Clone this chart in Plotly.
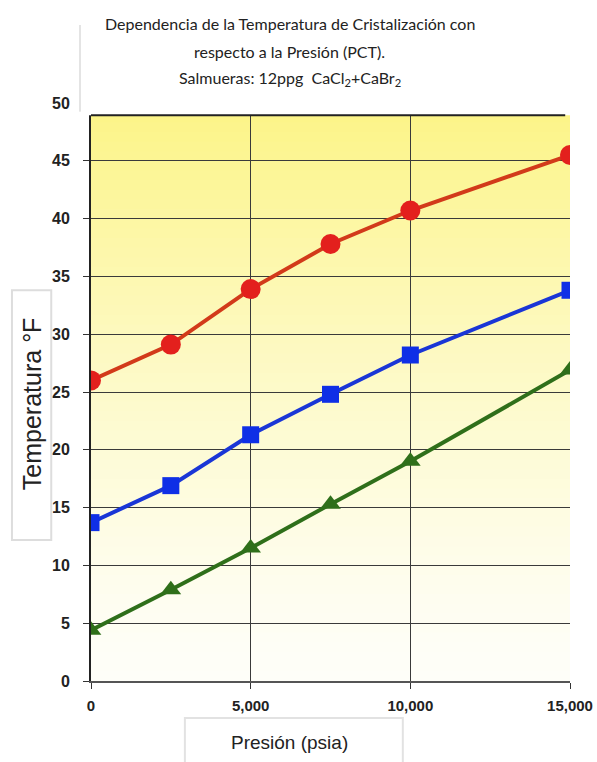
import plotly.graph_objects as go

presion = [0, 2500, 5000, 7500, 10000, 15000]
serie_roja = [26.0, 29.1, 33.9, 37.8, 40.7, 45.5]
serie_azul = [13.7, 16.9, 21.3, 24.8, 28.2, 33.8]
serie_verde = [4.4, 7.9, 11.5, 15.3, 19.0, 26.9]

x_ticks = [0, 5000, 10000, 15000]
x_ticklabels = ["0", "5,000", "10,000", "15,000"]
y_ticks = list(range(0, 55, 5))

titulo_lineas = [
    "Dependencia de la Temperatura de Cristalización con",
    "respecto a la Presión (PCT).",
    "Salmueras: 12ppg  CaCl<sub>2</sub>+CaBr<sub>2</sub>",
]

fig = go.Figure()

fig.add_trace(go.Scatter(x=presion, y=serie_roja, mode="lines+markers",
                         line=dict(color="#d23a1a", width=4),
                         marker=dict(symbol="circle", size=20, color="#e3201d"),
                         showlegend=False))
fig.add_trace(go.Scatter(x=presion, y=serie_azul, mode="lines+markers",
                         line=dict(color="#1a36d6", width=4),
                         marker=dict(symbol="square", size=17, color="#0f2fe6"),
                         showlegend=False))
fig.add_trace(go.Scatter(x=presion, y=serie_verde, mode="lines+markers",
                         line=dict(color="#2f6f1a", width=4),
                         marker=dict(symbol="triangle-up", size=18, color="#2f6f1a"),
                         showlegend=False))

# gradient background (yellow at top to near white at bottom)
shapes = []
n = 60
top = (252, 244, 135)
bot = (254, 254, 248)
for i in range(n):
    t = i / (n - 1)
    tt = t ** 1.3
    c = tuple(int(round(bot[k] + (top[k] - bot[k]) * tt)) for k in range(3))
    shapes.append(dict(type="rect", xref="x domain", yref="y domain",
                       x0=0, x1=1, y0=i / n, y1=(i + 1) / n + 0.002,
                       fillcolor="rgb(%d,%d,%d)" % c, line=dict(width=0),
                       layer="below"))

# title box covering the top of the plot
shapes.append(dict(type="rect", xref="paper", yref="paper",
                   x0=-0.023, x1=1.0, y0=0.979, y1=1.14,
                   fillcolor="white", line=dict(width=0), layer="above"))
shapes.append(dict(type="line", xref="paper", yref="paper",
                   x0=-0.023, x1=-0.023, y0=0.985, y1=1.135,
                   line=dict(color="#e4e4e4", width=2), layer="above"))
shapes.append(dict(type="line", xref="paper", yref="paper",
                   x0=0.0, x1=0.99, y0=0.979, y1=0.979,
                   line=dict(color="#222222", width=2), layer="above"))
# y-axis title box
shapes.append(dict(type="rect", xref="paper", yref="paper",
                   x0=-0.165, x1=-0.083, y0=0.244, y1=0.676,
                   fillcolor="white", line=dict(color="#dddddd", width=2)))
# x-axis title box
shapes.append(dict(type="rect", xref="paper", yref="paper",
                   x0=0.196, x1=0.651, y0=-0.16, y1=-0.064,
                   fillcolor="white", line=dict(color="#e2e2e2", width=2)))

title_font = dict(family="Lato, Liberation Sans, sans-serif", size=16, color="#222222")
annotations = []
for texto, yy in zip(titulo_lineas, [1.137, 1.089, 1.043]):
    annotations.append(dict(text=texto, xref="paper", yref="paper", x=0.415, y=yy,
                            xanchor="center", yanchor="middle", showarrow=False,
                            font=title_font))
annotations += [
    dict(text="Temperatura °F", xref="paper", yref="paper", x=-0.124, y=0.48,
         xanchor="center", yanchor="middle",
         textangle=-90, showarrow=False,
         font=dict(family="Liberation Sans, Arial, sans-serif", size=25, color="#222222")),
    dict(text="Presión (psia)", xref="paper", yref="paper", x=0.415, y=-0.106,
         xanchor="center", yanchor="middle",
         showarrow=False,
         font=dict(family="Liberation Sans, Arial, sans-serif", size=19, color="#222222")),
]

fig.update_layout(
    width=597, height=762,
    margin=dict(l=91, r=27, t=103, b=81),
    paper_bgcolor="white", plot_bgcolor="white",
    shapes=shapes, annotations=annotations,
    xaxis=dict(range=[0, 15000], tickvals=x_ticks, ticktext=x_ticklabels,
               automargin=False,
               showgrid=True, gridcolor="#3a3a3a", gridwidth=1,
               showline=True, linecolor="#555555", linewidth=2, mirror=True,
               ticks="outside", ticklen=6, tickcolor="#333333",
               ticklabelstandoff=4,
               tickfont=dict(family="Liberation Sans, Arial, sans-serif", size=15, color="#222222", weight="bold"),
               zeroline=False),
    yaxis=dict(range=[0, 50], tickvals=y_ticks, automargin=False,
               showgrid=True, gridcolor="#3a3a3a", gridwidth=1,
               showline=True, linecolor="#222222", linewidth=2,
               ticks="outside", ticklen=6, tickcolor="#333333",
               ticklabelstandoff=10,
               tickfont=dict(family="Liberation Sans, Arial, sans-serif", size=16, color="#222222", weight="bold"),
               zeroline=False),
)

fig.write_html("out.html", config={"displayModeBar": False},
               post_script="document.body.style.margin='0';")
